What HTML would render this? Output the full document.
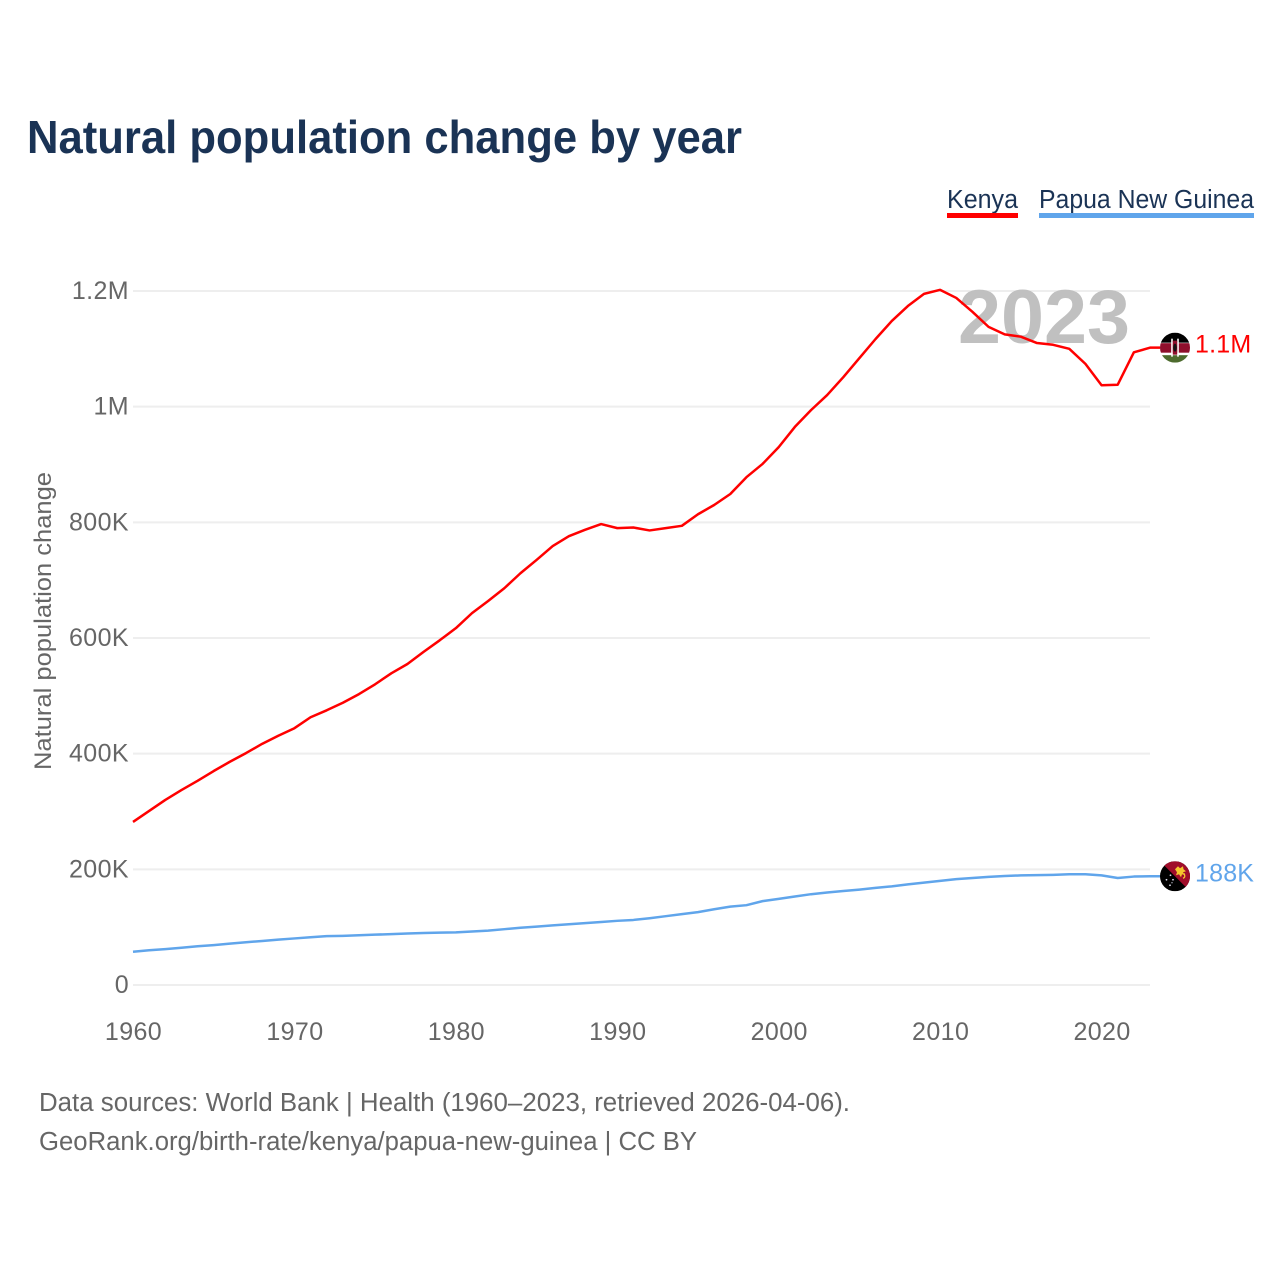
<!DOCTYPE html>
<html lang="en">
<head>
<meta charset="utf-8">
<title>Natural population change by year</title>
<style>
html,body{margin:0;padding:0;background:#fff;}
svg{display:block;font-family:"Liberation Sans",sans-serif;}
</style>
</head>
<body>
<svg id="chart" xmlns="http://www.w3.org/2000/svg" width="1280" height="1280" viewBox="0 0 1280 1280">
  <defs>
    <clipPath id="flag-clip"><circle cx="0" cy="0" r="15"/></clipPath>
  </defs>
  <rect x="0" y="0" width="1280" height="1280" fill="#fff"/>
  <text x="27" y="153" font-size="46" font-weight="700" fill="#1a3355" textLength="715" lengthAdjust="spacingAndGlyphs">Natural population change by year</text>

  <g>
    <text x="947" y="208" font-size="25.5" fill="#1a3355" textLength="71" lengthAdjust="spacingAndGlyphs">Kenya</text>
    <rect x="947" y="213" width="71" height="5" fill="#ff0000"/>
  </g>
  <g>
    <text x="1039" y="208" font-size="25.5" fill="#1a3355" textLength="215" lengthAdjust="spacingAndGlyphs">Papua New Guinea</text>
    <rect x="1039" y="213" width="215" height="5" fill="#60a5eb"/>
  </g>

  <g id="grid"></g>
  <text x="958" y="343" font-size="76" font-weight="700" fill="#c0c0c0" textLength="172" lengthAdjust="spacingAndGlyphs">2023</text>
  <g id="y-ticks"></g>
  <g id="x-ticks"></g>
  <text transform="translate(51,621) rotate(-90)" font-size="24.5" fill="#666" text-anchor="middle" textLength="298" lengthAdjust="spacingAndGlyphs">Natural population change</text>
  <g id="series"></g>

  <g id="flag-kenya">
    <g clip-path="url(#flag-clip)">
      <rect x="-15" y="-15" width="30" height="30" fill="#fff"/>
      <rect x="-15" y="-15" width="30" height="10" fill="#000"/>
      <rect x="-15" y="-4.5" width="30" height="9.5" fill="#8f0f2c"/>
      <rect x="-15" y="7.5" width="30" height="7.5" fill="#4d6b2e"/>
      <rect x="-3.8" y="-9" width="1.6" height="18" fill="#fff"/>
      <rect x="2.2" y="-9" width="1.6" height="18" fill="#fff"/>
      <rect x="-2.2" y="-7" width="4.4" height="14" fill="#8f0f2c"/>
      <ellipse cx="0" cy="0" rx="1.8" ry="4" fill="#111"/>
    </g>
  </g>
  <g id="flag-png">
    <g clip-path="url(#flag-clip)">
      <rect x="-15" y="-15" width="30" height="30" fill="#000"/>
      <polygon points="-15,-15 15,-15 15,15" fill="#a00d2a"/>
      <polygon points="0,-7 3,-10 5,-8 8,-10 8.5,-7 11,-5 8,-4 10,-1 7,-2 6,1 4,-2 1,-1 2,-4" fill="#f5c52c"/>
      <path d="M9,-3 q2,4 -1,5" stroke="#f5c52c" stroke-width="1.3" fill="none"/>
      <circle cx="-4.5" cy="-1" r="0.9" fill="#dde"/>
      <circle cx="-8.5" cy="3.5" r="0.9" fill="#dde"/>
      <circle cx="-2" cy="3.5" r="0.9" fill="#dde"/>
      <circle cx="-5" cy="9" r="0.9" fill="#dde"/>
      <circle cx="-3" cy="6.5" r="0.6" fill="#dde"/>
    </g>
  </g>
  <g id="end-labels"></g>

  <text x="39" y="1111" font-size="25.5" fill="#666" textLength="811" lengthAdjust="spacingAndGlyphs">Data sources: World Bank | Health (1960–2023, retrieved 2026-04-06).</text>
  <text x="39" y="1150" font-size="25.5" fill="#666" textLength="658" lengthAdjust="spacingAndGlyphs">GeoRank.org/birth-rate/kenya/papua-new-guinea | CC BY</text>
</svg>
<script>
const startYear = 1960;
const xTickYears = [1960, 1970, 1980, 1990, 2000, 2010, 2020];
const yTickValues = [0, 200, 400, 600, 800, 1000, 1200];
const yTickLabels = ['0', '200K', '400K', '600K', '800K', '1M', '1.2M'];
const kenyaValues = [282,301,320,337,353,370,386,401,417,431,444,463,475,488,503,520,539,555,576,596,617,643,664,686,712,735,759,776,787,797,790,791,786,790,794,814,830,849,878,901,930,965,994,1020,1051,1084,1117,1148,1174,1195,1202,1188,1164,1138,1125,1121,1110,1107,1100,1074,1037,1038,1094,1102];
const pngValues = [57.5,60,62,64.5,67,69,71.5,74,76,78.5,80.5,82.5,84.5,85,86,87,88,89,90,90.5,91,92.5,94,96.5,99,101,103,105,107,109,111,112.5,115.5,119,122.5,126,131,135.5,138,145,149,153,157,160,162.5,165,168,170.5,174,177,180,183,185,187,188.5,189.5,190,190.5,191.5,191.5,189.5,185,187.5,188];

const NS = 'http://www.w3.org/2000/svg';
const xScale = function (year) { return 133 + (year - 1960) * (1150 - 133) / 63; };
const yScale = function (value) { return 985 - value * (985 - 291) / 1200; };
const formatValue = function (v) {
  return v >= 1000 ? (Math.round(v / 100) / 10) + 'M' : Math.round(v) + 'K';
};
function make(tag, parent, attrs, text) {
  const el = document.createElementNS(NS, tag);
  Object.keys(attrs).forEach(function (k) { el.setAttribute(k, attrs[k]); });
  if (text !== undefined) el.textContent = text;
  parent.appendChild(el);
  return el;
}

const grid = document.getElementById('grid');
const yTicks = document.getElementById('y-ticks');
yTickValues.forEach(function (v, i) {
  const line = make('line', grid, {x1: 133, x2: 1150, y1: yScale(v), y2: yScale(v), stroke: '#eeeeee', 'stroke-width': 2});
  
  
  const label = make('text', yTicks, {x: 129, y: yScale(v) + 8, 'font-size': 25, fill: '#666', 'text-anchor': 'end', 'letter-spacing': 0.4}, yTickLabels[i]);
  
  
});

const xTicks = document.getElementById('x-ticks');
xTickYears.forEach(function (year) {
  const label = make('text', xTicks, {x: xScale(year) + 0.5, y: 1040, 'font-size': 25, fill: '#666', 'text-anchor': 'middle', 'letter-spacing': 0.4}, String(year));
  
  
});

const seriesGroup = document.getElementById('series');
function drawSeries(values, color) {
  const pts = values.map(function (v, i) { return xScale(startYear + i).toFixed(2) + ',' + yScale(v).toFixed(2); });
  pts.push('1165,' + yScale(values[values.length - 1]).toFixed(2));
  return make('polyline', seriesGroup, {points: pts.join(' '), fill: 'none', stroke: color, 'stroke-width': 2.5, 'stroke-linejoin': 'round'});
}
const kenyaLine = drawSeries(kenyaValues, '#ff0000');


const pngLine = drawSeries(pngValues, '#60a5eb');



const kenyaLast = kenyaValues[kenyaValues.length - 1];
const pngLast = pngValues[pngValues.length - 1];
document.getElementById('flag-kenya').setAttribute('transform', 'translate(1175,' + yScale(kenyaLast) + ')');
document.getElementById('flag-png').setAttribute('transform', 'translate(1175,' + yScale(pngLast) + ')');

const endLabels = document.getElementById('end-labels');
const kenyaLabel = make('text', endLabels, {x: 1195, y: yScale(kenyaLast) + 5, 'font-size': 25, fill: '#ff0000', 'letter-spacing': 0.2}, formatValue(kenyaLast));


const pngLabel = make('text', endLabels, {x: 1195, y: yScale(pngLast) + 5, 'font-size': 25, fill: '#60a5eb', 'letter-spacing': 0.2}, formatValue(pngLast));


</script>
</body>
</html>
